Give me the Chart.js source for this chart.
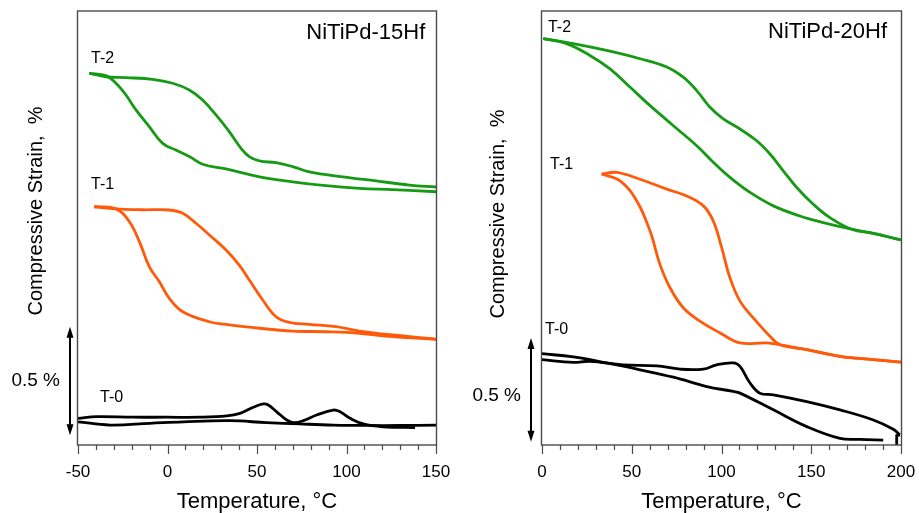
<!DOCTYPE html>
<html>
<head>
<meta charset="utf-8">
<title>NiTiPd-Hf compressive strain vs temperature</title>
<script src="https://cdn.jsdelivr.net/npm/chart.js@4.4.1/dist/chart.umd.min.js"></script>
<style>
  html, body { margin: 0; padding: 0; background: #fff; }
  #wrap { position: relative; width: 919px; height: 513px; overflow: hidden; }
  canvas { position: absolute; top: 0; }
  #c15 { left: 0; }
  #c20 { left: 460px; }
</style>
</head>
<body>
<div id="wrap">
  <canvas id="c15" width="460" height="513"></canvas>
  <canvas id="c20" width="459" height="513"></canvas>
</div>
<script>
// =========================
// DATA  (temperature °C, compressive strain % with arbitrary offset)
// =========================

// --- NiTiPd-15Hf ---
const t2Heat15 = [[-43.7,1.713],[-34.4,1.697],[-23.2,1.693],[-8.3,1.685],[2.9,1.667],[12.2,1.636],[19.6,1.590],[27.1,1.521],[34.5,1.444],[41.1,1.367],[45.7,1.329],[51.3,1.309],[60.6,1.301],[69.9,1.283],[79.2,1.259],[97.9,1.236],[116.5,1.217],[135.1,1.198],[150,1.189]];
const t2Cool15 = [[-43.7,1.713],[-34.4,1.702],[-28.8,1.667],[-23.2,1.613],[-17.6,1.544],[-10.2,1.467],[-2.7,1.390],[4.7,1.359],[12.2,1.329],[19.6,1.294],[32.7,1.272],[51.3,1.236],[69.9,1.213],[88.5,1.195],[107.2,1.183],[125.8,1.177],[150,1.167]];
const t1Heat15 = [[-40.9,1.098],[-28.8,1.088],[-13.9,1.084],[1.0,1.083],[8.5,1.068],[15.9,1.022],[23.4,0.968],[32.7,0.899],[40.1,0.829],[45.7,0.760],[53.2,0.668],[60.6,0.591],[68.0,0.565],[79.2,0.556],[94.1,0.545],[107.2,0.525],[125.8,0.507],[150,0.488]];
const t1Cool15 = [[-40.9,1.098],[-28.8,1.088],[-21.3,1.029],[-15.7,0.937],[-10.2,0.822],[-4.6,0.753],[1.0,0.676],[8.5,0.614],[23.4,0.568],[32.7,0.556],[51.3,0.538],[69.9,0.525],[88.5,0.522],[107.2,0.515],[125.8,0.499],[150,0.487]];
const t0Heat15 = [[-50,0.123],[-39.6,0.131],[-19.1,0.128],[-0.5,0.128],[18.2,0.128],[33.1,0.134],[40.5,0.146],[47.9,0.174],[53.5,0.189],[56.3,0.184],[61,0.153],[66.6,0.115],[70.3,0.103],[75.9,0.112],[83.3,0.138],[92.6,0.161],[96.4,0.153],[102,0.123],[109.4,0.097],[120.6,0.084],[138.3,0.080]];
const t0Cool15 = [[-50,0.107],[-32.1,0.092],[-9.8,0.100],[8.8,0.107],[34.9,0.112],[55.4,0.103],[74,0.097],[92.6,0.092],[111.3,0.090],[129.9,0.090],[150,0.092]];

// --- NiTiPd-20Hf ---
const t2Heat20 = [[0.7,1.966],[17.4,1.942],[36.0,1.909],[54.6,1.869],[69.5,1.829],[78.7,1.780],[86.2,1.715],[93.6,1.634],[101,1.578],[110.3,1.529],[119.6,1.472],[127,1.408],[134.4,1.327],[141.9,1.246],[151.1,1.165],[160.4,1.100],[172.5,1.044],[184.6,1.024],[200,0.992]];
const t2Cool20 = [[0.7,1.966],[13.7,1.942],[26.7,1.885],[37.9,1.820],[49,1.732],[60.2,1.642],[73.2,1.545],[86.2,1.448],[95.4,1.368],[104.7,1.295],[115.9,1.222],[128.9,1.157],[143.7,1.108],[156.7,1.076],[172.5,1.044],[184.6,1.024],[200,0.992]];
const t1Heat20 = [[33.2,1.311],[41.6,1.319],[54.6,1.286],[69.5,1.238],[80.6,1.205],[89.9,1.157],[95.4,1.084],[100.1,0.955],[104.7,0.809],[110.3,0.696],[117.7,0.615],[127,0.526],[132.6,0.485],[147.5,0.461],[166,0.429],[184.6,0.413],[200,0.401]];
const t1Cool20 = [[33.2,1.311],[43.5,1.278],[52.8,1.181],[60.2,1.035],[65.7,0.874],[71.3,0.761],[78.7,0.664],[88,0.599],[99.2,0.542],[110.3,0.494],[125.2,0.494],[132.6,0.485],[147.5,0.461],[166,0.429],[184.6,0.413],[200,0.401]];
const t0Cool20 = [[0,0.442],[17.4,0.426],[36,0.397],[54.6,0.364],[73.2,0.328],[91.8,0.283],[106.6,0.259],[110.3,0.251],[128.9,0.170],[147.5,0.089],[166,0.032],[177.2,0.027],[190.1,0.024]];
const t0Heat20 = [[0,0.413],[17.4,0.400],[26.7,0.405],[45.3,0.388],[63.9,0.383],[76.9,0.367],[89.9,0.367],[97.3,0.388],[106.6,0.397],[110.3,0.380],[115.9,0.300],[121.4,0.251],[128.9,0.243],[147.5,0.210],[166,0.170],[184.6,0.121],[195.7,0.076],[199.4,0.049]];
const t0End20 = [[199.4,0.049],[197.6,0.045],[197.6,0.0]];

// axis ranges and tick spacing
const xRange15 = [-50, 150];
const xRange20 = [0, 200];
const yRange15 = [0, 2.0];
const yRange20 = [0, 2.1];
const majorStep = 50;
const minorStep = 10;

// text notes placed in data space: [text, temperature, strain]
const notes15 = [["T-2", -42.7, 1.78], ["T-1", -42.7, 1.20], ["T-0", -37.7, 0.22]];
const notes20 = [["T-2", 3.3, 2.02], ["T-1", 4.5, 1.355], ["T-0", 1.7, 0.56]];
const title15 = ["NiTiPd-15Hf", 144, 1.90];
const title20 = ["NiTiPd-20Hf", 192.2, 2.0];

// 0.5 % scale bars: [bottom, top] strain, and label centre strain
const bar15 = [0.045, 0.545, 0.295];
const bar20 = [0.016, 0.518, 0.238];

// =========================
// STYLE
// =========================
const FONT = "'Liberation Sans', Arial, Helvetica, sans-serif";
const GREEN = "#169a16";
const ORANGE = "#ff5a0a";
const BLACK = "#000000";
const FRAME = "#4a4a4a";

function series(label, pts, color) {
  return {
    label,
    data: pts.map(([x, y]) => ({ x, y })),
    borderColor: color,
    borderWidth: 2.8,
    pointRadius: 0,
    fill: false,
    tension: 0.4,
  };
}

// frame, tick marks, notes, scale bar, rotated y title
const decorPlugin = {
  id: "decor",
  afterDraw(chart, args, o) {
    const { ctx, chartArea: a, scales } = chart;
    const xs = scales.x, ys = scales.y;
    ctx.save();

    // frame
    ctx.strokeStyle = FRAME;
    ctx.lineWidth = 1.4;
    ctx.strokeRect(a.left - 0.5, a.top, a.right - a.left + 1, a.bottom - a.top);

    // major and minor tick marks below the axis
    ctx.lineWidth = 1.2;
    ctx.beginPath();
    for (let v = xs.min; v <= xs.max; v += minorStep) {
      const len = v % majorStep === 0 ? 9 : 5;
      const px = Math.round(xs.getPixelForValue(v)) + 0.5;
      ctx.moveTo(px, a.bottom);
      ctx.lineTo(px, a.bottom + len);
    }
    ctx.stroke();

    // curve labels
    ctx.fillStyle = "#000";
    ctx.textBaseline = "middle";
    ctx.textAlign = "left";
    ctx.font = "16px " + FONT;
    o.notes.forEach(([t, x, y]) => {
      ctx.fillText(t, xs.getPixelForValue(x), ys.getPixelForValue(y));
    });

    // alloy name
    ctx.textAlign = "right";
    ctx.font = "22px " + FONT;
    ctx.fillText(o.name[0], xs.getPixelForValue(o.name[1]), ys.getPixelForValue(o.name[2]));

    // scale bar with arrow heads
    const bx = a.left - o.barGap;
    const yTop = ys.getPixelForValue(o.bar[1]);
    const yBot = ys.getPixelForValue(o.bar[0]);
    ctx.strokeStyle = "#000";
    ctx.lineWidth = 2;
    ctx.beginPath();
    ctx.moveTo(bx, yTop + 6);
    ctx.lineTo(bx, yBot - 6);
    ctx.stroke();
    ctx.beginPath();
    ctx.moveTo(bx, yTop);
    ctx.lineTo(bx - 3.5, yTop + 11);
    ctx.lineTo(bx + 3.5, yTop + 11);
    ctx.closePath();
    ctx.moveTo(bx, yBot);
    ctx.lineTo(bx - 3.5, yBot - 11);
    ctx.lineTo(bx + 3.5, yBot - 11);
    ctx.closePath();
    ctx.fill();
    ctx.font = "19px " + FONT;
    ctx.textAlign = "right";
    ctx.fillText("0.5 %", bx - 10, ys.getPixelForValue(o.bar[2]));

    // y axis title
    ctx.translate(a.left - o.titleGap, o.titleY);
    ctx.rotate(-Math.PI / 2);
    ctx.textAlign = "center";
    ctx.font = "20px " + FONT;
    ctx.fillText("Compressive Strain,  %", 0, 0);

    ctx.restore();
  },
};

function makeChart(id, sets, xr, yr, pad, decor) {
  return new Chart(document.getElementById(id), {
    type: "line",
    data: { datasets: sets },
    options: {
      responsive: false,
      animation: false,
      layout: { padding: pad },
      plugins: { legend: { display: false }, tooltip: { enabled: false }, decor },
      scales: {
        x: {
          type: "linear",
          min: xr[0],
          max: xr[1],
          ticks: {
            stepSize: majorStep,
            color: "#000",
            font: { family: FONT, size: 17 },
            padding: 3,
            maxRotation: 0,
            autoSkip: false,
          },
          // tick marks are drawn by the plugin; this only spaces the labels
          grid: { drawOnChartArea: false, drawTicks: true, tickLength: 14, color: "rgba(0,0,0,0)" },
          border: { display: false },
          title: {
            display: true,
            text: "Temperature, °C",
            color: "#000",
            font: { family: FONT, size: 22, lineHeight: 1 },
            padding: { top: 0, bottom: 0 },
          },
          afterFit: (s) => { s.height = 68; },
        },
        y: { display: false, min: yr[0], max: yr[1] },
      },
    },
    plugins: [decorPlugin],
  });
}

makeChart("c15", [
  series("T-2 heating", t2Heat15, GREEN),
  series("T-2 cooling", t2Cool15, GREEN),
  series("T-1 heating", t1Heat15, ORANGE),
  series("T-1 cooling", t1Cool15, ORANGE),
  series("T-0 heating", t0Heat15, BLACK),
  series("T-0 cooling", t0Cool15, BLACK),
], xRange15, yRange15, { left: 78, right: 24, top: 11, bottom: 0 },
  { notes: notes15, name: title15, bar: bar15, barGap: 8, titleGap: 42, titleY: 211 });

makeChart("c20", [
  series("T-2 heating", t2Heat20, GREEN),
  series("T-2 cooling", t2Cool20, GREEN),
  series("T-1 heating", t1Heat20, ORANGE),
  series("T-1 cooling", t1Cool20, ORANGE),
  series("T-0 heating", t0Heat20, BLACK),
  series("T-0 cooling", t0Cool20, BLACK),
  Object.assign(series("T-0 end", t0End20, BLACK), { tension: 0 }),
], xRange20, yRange20, { left: 82, right: 18, top: 11, bottom: 0 },
  { notes: notes20, name: title20, bar: bar20, barGap: 11, titleGap: 44, titleY: 214 });
</script>
</body>
</html>
